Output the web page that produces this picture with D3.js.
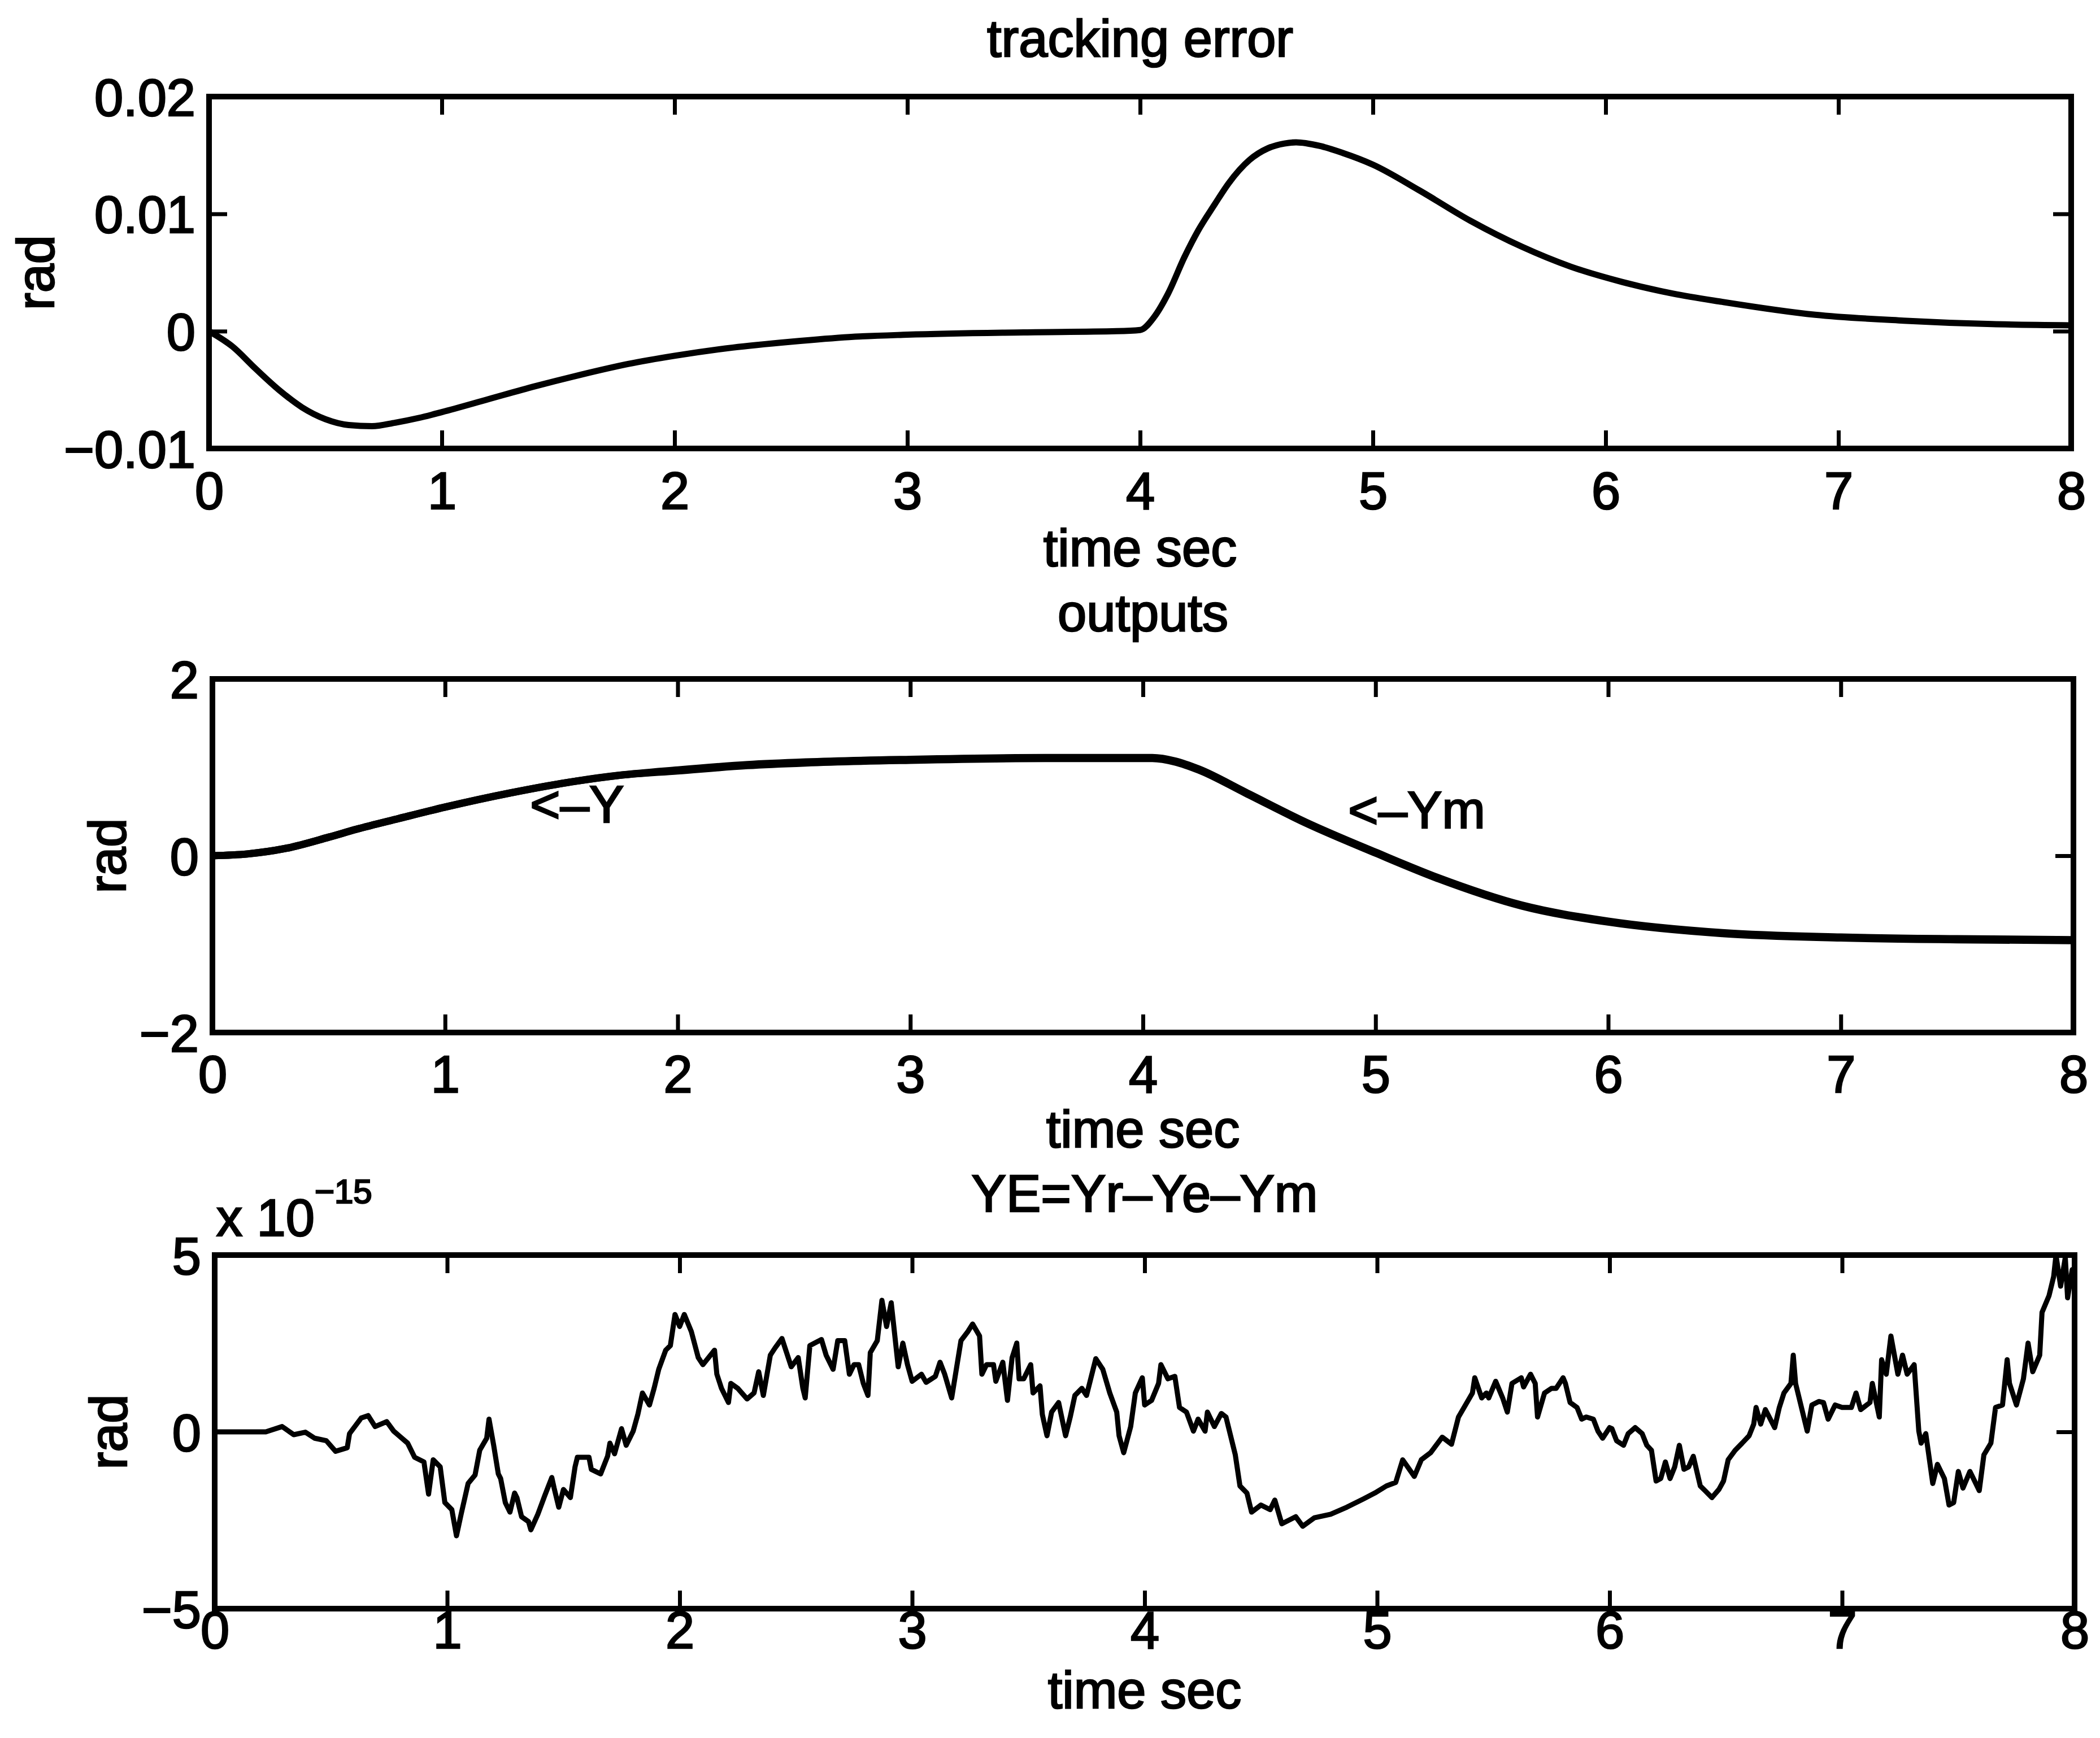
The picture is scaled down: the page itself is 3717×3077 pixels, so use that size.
<!DOCTYPE html>
<html>
<head>
<meta charset="utf-8">
<script src="https://cdn.jsdelivr.net/npm/d3@7"></script>
<style>
  html, body { margin: 0; padding: 0; background: #fff; }
  svg { display: block; }
  text { font-family: "Liberation Sans", Arial, Helvetica, sans-serif; fill: #000; }
</style>
</head>
<body>
<svg id="fig" width="3717" height="3077"></svg>
<script>
// ---- tick values -------------------------------------------------------
const timeTicks = [0, 1, 2, 3, 4, 5, 6, 7, 8];
const errTicks  = [-0.01, 0, 0.01, 0.02];
const outTicks  = [-2, 0, 2];
const yeTicks   = [-5, 0, 5];          // in units of 1e-15

// ---- tracking error (rad) ---------------------------------------------
const errTime  = [0, 0.1, 0.2, 0.3, 0.4, 0.5, 0.6, 0.7, 0.8, 0.9, 1.0, 1.2, 1.4, 1.6, 1.8, 2.0,
                  2.25, 2.5, 2.75, 3.0, 3.5, 3.9, 4.0, 4.06, 4.12, 4.19, 4.25, 4.32, 4.38, 4.47,
                  4.55, 4.62, 4.67, 4.77, 4.87, 5.0, 5.2, 5.42, 5.64, 5.85, 6.07, 6.29, 6.5,
                  6.9, 7.28, 7.66, 8.0];
const errValue = [0, -0.0013, -0.0032, -0.0050, -0.0065, -0.0075, -0.0080, -0.0081, -0.0078,
                  -0.0074, -0.0069, -0.0058, -0.0047, -0.0037, -0.0028, -0.0021, -0.0014,
                  -0.0009, -0.0005, -0.0003, -0.0001, 0.0000, 0.0001, 0.0012, 0.0032, 0.0063,
                  0.0086, 0.0108, 0.0126, 0.0146, 0.0156, 0.0160, 0.0161, 0.0158, 0.0152,
                  0.0142, 0.0120, 0.0094, 0.0072, 0.0055, 0.0042, 0.0032, 0.0025, 0.0014,
                  0.0009, 0.0006, 0.0005];

// ---- outputs (rad) -----------------------------------------------------
const outTime = [0, 0.15, 0.31, 0.5, 0.62, 0.8, 1.0, 1.28, 1.53, 1.75, 2.0, 2.3, 2.55, 3.0,
                 3.58, 4.04, 4.14, 4.24, 4.44, 4.7, 5.0, 5.27, 5.63, 6.0, 6.49, 7.0, 7.5, 8.0];
const outY    = [0, 0.02, 0.08, 0.21, 0.30, 0.42, 0.55, 0.71, 0.83, 0.91, 0.96, 1.02, 1.05, 1.08,
                 1.10, 1.10, 1.06, 0.97, 0.71, 0.37, 0.03, -0.26, -0.57, -0.75, -0.88, -0.93,
                 -0.95, -0.96];
const outYm   = [0, 0.02, 0.08, 0.21, 0.30, 0.42, 0.55, 0.71, 0.83, 0.91, 0.97, 1.03, 1.06, 1.09,
                 1.11, 1.11, 1.07, 0.98, 0.72, 0.38, 0.04, -0.25, -0.56, -0.74, -0.87, -0.92,
                 -0.94, -0.95];

// ---- YE = Yr - Ye - Ym (x 1e-15 rad) ------------------------------------
const yeTime = [
  0, 0.22, 0.29, 0.34, 0.39, 0.43, 0.48, 0.52, 0.57, 0.58, 0.63, 0.66, 0.69, 0.74, 0.77, 0.83,
  0.86, 0.90, 0.92, 0.94, 0.97, 0.99, 1.02, 1.04, 1.06, 1.09, 1.12, 1.14, 1.17, 1.18, 1.20,
  1.22, 1.23, 1.25, 1.27, 1.29, 1.30, 1.32, 1.35, 1.36, 1.39, 1.42, 1.45, 1.46, 1.48, 1.50,
  1.53, 1.55, 1.56, 1.61, 1.62, 1.66, 1.69, 1.70, 1.72, 1.75, 1.77, 1.80, 1.82, 1.84, 1.87,
  1.89, 1.91, 1.94, 1.96, 1.98, 2.00, 2.02, 2.05, 2.08, 2.10, 2.15, 2.16, 2.18, 2.21, 2.22,
  2.25, 2.29, 2.32, 2.34, 2.36, 2.39, 2.41, 2.44, 2.48, 2.51, 2.53, 2.54, 2.56, 2.61, 2.63,
  2.66, 2.68, 2.71, 2.73, 2.75, 2.77, 2.79, 2.81, 2.82, 2.85, 2.87, 2.89, 2.91, 2.92, 2.94,
  2.96, 2.98, 3.00, 3.04, 3.06, 3.10, 3.12, 3.14, 3.17, 3.19, 3.21, 3.24, 3.26, 3.29, 3.30,
  3.32, 3.35, 3.36, 3.39, 3.41, 3.43, 3.45, 3.46, 3.48, 3.51, 3.52, 3.55, 3.56, 3.58, 3.60,
  3.63, 3.66, 3.68, 3.70, 3.73, 3.75, 3.79, 3.82, 3.85, 3.88, 3.89, 3.91, 3.94, 3.96, 3.99,
  4.00, 4.03, 4.06, 4.07, 4.10, 4.13, 4.15, 4.18, 4.21, 4.23, 4.26, 4.27, 4.30, 4.33, 4.35,
  4.36, 4.39, 4.41, 4.44, 4.46, 4.50, 4.54, 4.56, 4.59, 4.65, 4.68, 4.73, 4.80, 4.87, 4.94,
  4.99, 5.04, 5.08, 5.11, 5.16, 5.19, 5.23, 5.28, 5.32, 5.35, 5.38, 5.41, 5.42, 5.45, 5.47,
  5.48, 5.51, 5.54, 5.56, 5.58, 5.62, 5.63, 5.66, 5.68, 5.69, 5.72, 5.75, 5.77, 5.80, 5.81,
  5.83, 5.86, 5.88, 5.90, 5.93, 5.95, 5.97, 6.00, 6.01, 6.03, 6.06, 6.08, 6.11, 6.14, 6.16,
  6.18, 6.20, 6.22, 6.24, 6.26, 6.28, 6.30, 6.32, 6.34, 6.36, 6.39, 6.41, 6.44, 6.47, 6.49,
  6.51, 6.54, 6.57, 6.60, 6.62, 6.63, 6.65, 6.67, 6.71, 6.73, 6.75, 6.78, 6.79, 6.80, 6.82,
  6.85, 6.87, 6.90, 6.92, 6.94, 6.97, 7.00, 7.04, 7.06, 7.08, 7.12, 7.13, 7.16, 7.17, 7.19,
  7.21, 7.24, 7.26, 7.28, 7.31, 7.33, 7.34, 7.36, 7.38, 7.39, 7.41, 7.44, 7.46, 7.48, 7.50,
  7.52, 7.55, 7.57, 7.59, 7.61, 7.64, 7.66, 7.69, 7.71, 7.72, 7.75, 7.78, 7.80, 7.82, 7.85,
  7.86, 7.89, 7.91, 7.92, 7.94, 7.96, 7.97, 7.99, 8.00];
const yeValue = [
  0, 0.0, 0.15, -0.08, -0.01, -0.18, -0.25, -0.55, -0.45, -0.05, 0.39, 0.46, 0.15, 0.29, 0.02,
  -0.32, -0.72, -0.85, -1.76, -0.79, -0.99, -2.0, -2.2, -2.94, -2.33, -1.46, -1.22, -0.52,
  -0.18, 0.36, -0.38, -1.19, -1.32, -2.0, -2.27, -1.73, -1.86, -2.4, -2.54, -2.77, -2.33,
  -1.80, -1.29, -1.59, -2.13, -1.63, -1.86, -0.99, -0.72, -0.72, -1.06, -1.19, -0.69, -0.32,
  -0.62, 0.09, -0.38, 0.02, 0.49, 1.10, 0.76, 1.23, 1.77, 2.31, 2.44, 3.32, 2.98, 3.32, 2.84,
  2.10, 1.90, 2.31, 1.63, 1.23, 0.83, 1.37, 1.23, 0.93, 1.10, 1.70, 1.03, 2.17, 2.37, 2.64,
  1.84, 2.10, 1.23, 0.96, 2.44, 2.61, 2.17, 1.77, 2.58, 2.58, 1.63, 1.90, 1.90, 1.37, 1.03,
  2.24, 2.58, 3.72, 2.98, 3.65, 3.05, 1.84, 2.51, 1.90, 1.43, 1.63, 1.40, 1.57, 1.97, 1.63,
  0.96, 1.77, 2.58, 2.84, 3.05, 2.71, 1.63, 1.90, 1.90, 1.43, 1.97, 0.89, 2.10, 2.51, 1.50,
  1.50, 1.90, 1.10, 1.30, 0.49, -0.11, 0.56, 0.83, -0.11, 0.42, 1.03, 1.23, 1.03, 2.07, 1.77,
  1.10, 0.56, -0.11, -0.59, 0.15, 1.10, 1.53, 0.76, 0.89, 1.37, 1.90, 1.50, 1.57, 0.69, 0.56,
  0.02, 0.36, 0.02, 0.56, 0.15, 0.52, 0.42, 0.15, -0.65, -1.53, -1.73, -2.27, -2.07, -2.20,
  -1.93, -2.60, -2.40, -2.67, -2.43, -2.33, -2.13, -1.90, -1.73, -1.53, -1.43, -0.79, -1.26,
  -0.79, -0.59, -0.15, -0.35, 0.42, 0.76, 1.10, 1.53, 0.96, 1.10, 0.96, 1.43, 0.96, 0.56,
  1.37, 1.53, 1.27, 1.63, 1.37, 0.42, 1.10, 1.23, 1.23, 1.53, 1.37, 0.83, 0.69, 0.36, 0.42,
  0.36, 0.02, -0.18, 0.12, 0.09, -0.25, -0.38, -0.05, 0.12, -0.05, -0.38, -0.52, -1.39,
  -1.32, -0.85, -1.32, -0.99, -0.38, -1.06, -0.99, -0.69, -1.53, -1.66, -1.86, -1.63, -1.39,
  -0.79, -0.52, -0.32, -0.11, 0.22, 0.69, 0.22, 0.63, 0.12, 0.69, 1.10, 1.37, 2.17, 1.37,
  0.83, 0.02, 0.76, 0.86, 0.83, 0.36, 0.76, 0.69, 0.69, 1.10, 0.63, 0.83, 1.37, 0.42, 2.04,
  1.63, 2.71, 1.63, 2.17, 1.63, 1.90, 0.02, -0.32, -0.05, -0.99, -1.46, -0.92, -1.32, -2.07,
  -2.0, -1.12, -1.59, -1.12, -1.39, -1.66, -0.65, -0.32, 0.69, 0.76, 2.04, 1.37, 0.76, 1.50,
  2.51, 1.70, 2.17, 3.38, 3.85, 4.39, 5.0, 4.12, 4.93, 3.79, 4.59, 4.05];

// ---- drawing -----------------------------------------------------------
const svg = d3.select("#fig");
const FONT = 92;
const TICK = 32;

function textStyle(sel, size) {
  sel.attr("font-size", size)
     .attr("font-family", "'Liberation Sans', Arial, Helvetica, sans-serif")
     .attr("fill", "#000")
     .attr("stroke", "#000")
     .attr("stroke-width", 2.6);
}

function drawPanel(p) {
  const g = svg.append("g");
  const x = d3.scaleLinear().domain([0, 8]).range([p.x0, p.x1]);
  const y = d3.scaleLinear().domain(p.domain).range([p.y1, p.y0]);

  // bottom axis with labels, ticks pointing inward
  const gb = g.append("g").attr("transform", `translate(0,${p.y1})`)
    .call(d3.axisBottom(x).tickValues(timeTicks).tickSize(-TICK).tickSizeOuter(0)
      .tickFormat(d3.format("d")));
  gb.selectAll("text").attr("dy", null).attr("y", p.xLabelBase);
  // top axis, ticks only
  const gt = g.append("g").attr("transform", `translate(0,${p.y0})`)
    .call(d3.axisTop(x).tickValues(timeTicks).tickSize(-TICK).tickSizeOuter(0).tickFormat(""));
  // left axis with labels
  const gl = g.append("g").attr("transform", `translate(${p.x0},0)`)
    .call(d3.axisLeft(y).tickValues(p.ticks).tickSize(-TICK).tickSizeOuter(0)
      .tickPadding(24).tickFormat(p.fmt));
  gl.selectAll("text").attr("dy", "0.36em");
  // right axis, ticks only
  const gr = g.append("g").attr("transform", `translate(${p.x1},0)`)
    .call(d3.axisRight(y).tickValues(p.ticks).tickSize(-TICK).tickSizeOuter(0).tickFormat(""));

  [gb, gt, gl, gr].forEach(a => {
    a.select(".domain").remove();
    a.selectAll(".tick line").attr("stroke", "#000").attr("stroke-width", 7);
    a.attr("font-size", null).attr("font-family", null);
    textStyle(a.selectAll("text"), FONT);
  });

  // axes box
  g.append("rect")
    .attr("x", p.x0).attr("y", p.y0)
    .attr("width", p.x1 - p.x0).attr("height", p.y1 - p.y0)
    .attr("fill", "none").attr("stroke", "#000").attr("stroke-width", 10);

  // clip for the traces
  const clipId = "clip" + p.id;
  svg.append("defs").append("clipPath").attr("id", clipId)
    .append("rect").attr("x", p.x0).attr("y", p.y0 - 4)
    .attr("width", p.x1 - p.x0).attr("height", p.y1 - p.y0 + 8);

  p.series.forEach(s => {
    const line = d3.line()
      .x((d, i) => x(s.t[i]))
      .y(d => y(d))
      .curve(s.curve);
    g.append("path")
      .datum(s.v)
      .attr("clip-path", `url(#${clipId})`)
      .attr("d", line)
      .attr("fill", "none")
      .attr("stroke", "#000")
      .attr("stroke-width", s.width)
      .attr("stroke-linejoin", "round")
      .attr("stroke-linecap", "round");
  });

  // title, x label, y label
  const cx = (p.x0 + p.x1) / 2;
  textStyle(g.append("text").attr("x", cx).attr("y", p.titleBase)
    .attr("text-anchor", "middle").text(p.title), FONT);
  textStyle(g.append("text").attr("x", cx).attr("y", p.xTitleBase)
    .attr("text-anchor", "middle").text("time sec"), FONT);
  textStyle(g.append("text")
    .attr("transform", `translate(${p.yTitleX},${(p.y0 + p.y1) / 2}) rotate(-90)`)
    .attr("text-anchor", "middle").text("rad"), FONT);

  return { g, x, y };
}

const fmtErr = d => d === 0 ? "0" : d3.format(".2f")(d);
const fmtInt = d3.format("d");

drawPanel({
  id: 1, x0: 370, x1: 3666, y0: 171, y1: 794,
  domain: [-0.01, 0.02], ticks: errTicks, fmt: fmtErr,
  xLabelBase: 107, titleBase: 100, xTitleBase: 1002, yTitleX: 95,
  title: "tracking error",
  series: [{ t: errTime, v: errValue, width: 11, curve: d3.curveMonotoneX }]
});

const mid = drawPanel({
  id: 2, x0: 376, x1: 3670, y0: 1202, y1: 1828,
  domain: [-2, 2], ticks: outTicks, fmt: fmtInt,
  xLabelBase: 106, titleBase: 1117, xTitleBase: 2031, yTitleX: 222,
  title: "outputs",
  series: [
    { t: outTime, v: outY,  width: 13, curve: d3.curveMonotoneX },
    { t: outTime, v: outYm, width: 13, curve: d3.curveMonotoneX }
  ]
});

// curve annotations
textStyle(mid.g.append("text").attr("x", 938).attr("y", 1456).text("<–Y"), FONT);
textStyle(mid.g.append("text").attr("x", 2386).attr("y", 1466).text("<–Ym"), FONT);

const bot = drawPanel({
  id: 3, x0: 380, x1: 3672, y0: 2222, y1: 2848,
  domain: [-5, 5], ticks: yeTicks, fmt: fmtInt,
  xLabelBase: 70, titleBase: 2145, xTitleBase: 3024, yTitleX: 224,
  title: "YE=Yr–Ye–Ym",
  series: [{ t: yeTime, v: yeValue, width: 9, curve: d3.curveLinear }]
});

// axis exponent
const expo = bot.g.append("text").attr("x", 383).attr("y", 2188);
expo.append("tspan").text("x 10");
expo.append("tspan").attr("dy", -58).text("−15");
textStyle(expo, FONT);
expo.select("tspan:nth-child(2)").attr("font-size", 60);
</script>
</body>
</html>
